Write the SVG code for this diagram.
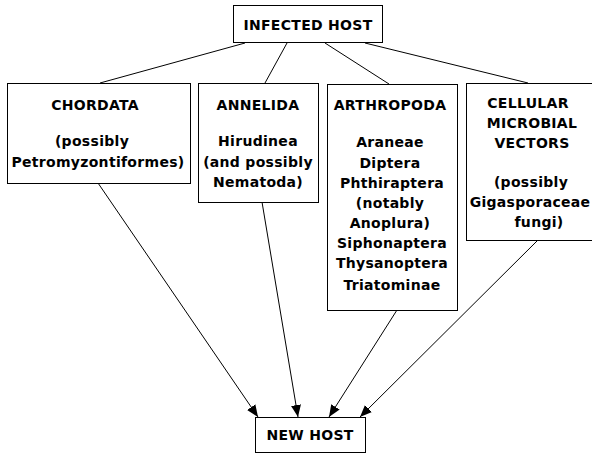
<svg xmlns="http://www.w3.org/2000/svg" width="592" height="454" viewBox="0 0 592 454">
<style>
.box{fill:#fff;stroke:#000;stroke-width:1}
.t{font-family:"DejaVu Sans","Verdana",sans-serif;font-weight:bold;font-size:14px;letter-spacing:0.3px;text-anchor:middle;fill:#000}
.c{stroke:#000;stroke-width:1;fill:none}
</style>
<defs>
<marker id="arr" markerWidth="12" markerHeight="10" refX="12" refY="5" orient="auto" markerUnits="userSpaceOnUse">
<path d="M0,0 L12,5 L0,10 Z" fill="#000"/>
</marker>
</defs>
<rect width="592" height="454" fill="#fff"/>
<g id="connectors">
<line class="c" x1="245" y1="43" x2="100" y2="83"/>
<line class="c" x1="287" y1="43" x2="265" y2="83"/>
<line class="c" x1="325" y1="43" x2="389" y2="84"/>
<line class="c" x1="365" y1="43" x2="528" y2="83"/>
<line class="c" x1="98" y1="183" x2="258" y2="417" marker-end="url(#arr)"/>
<line class="c" x1="262" y1="202" x2="298" y2="417" marker-end="url(#arr)"/>
<line class="c" x1="397" y1="310" x2="329" y2="417" marker-end="url(#arr)"/>
<line class="c" x1="537" y1="241" x2="360" y2="417" marker-end="url(#arr)"/>
</g>
<g id="infected-host">
<rect class="box" x="233.5" y="5.5" width="149" height="37"/>
<text class="t" x="308" y="30">INFECTED HOST</text>
</g>
<g id="chordata">
<rect class="box" x="7.5" y="83.5" width="183" height="100"/>
<text class="t" x="95" y="110">CHORDATA</text>
<text class="t" x="92" y="146">(possibly</text>
<text class="t" x="98" y="167">Petromyzontiformes)</text>
</g>
<g id="annelida">
<rect class="box" x="198.5" y="83.5" width="120" height="119"/>
<text class="t" x="258" y="110">ANNELIDA</text>
<text class="t" x="258" y="146">Hirudinea</text>
<text class="t" x="258" y="167">(and possibly</text>
<text class="t" x="258" y="187">Nematoda)</text>
</g>
<g id="arthropoda">
<rect class="box" x="327.5" y="84.5" width="130" height="226"/>
<text class="t" x="390" y="110">ARTHROPODA</text>
<text class="t" x="390" y="147">Araneae</text>
<text class="t" x="390" y="168">Diptera</text>
<text class="t" x="392" y="188">Phthiraptera</text>
<text class="t" x="390" y="208">(notably</text>
<text class="t" x="390" y="228">Anoplura)</text>
<text class="t" x="392" y="248">Siphonaptera</text>
<text class="t" x="392" y="268">Thysanoptera</text>
<text class="t" x="392" y="290">Triatominae</text>
</g>
<g id="cellular">
<rect class="box" x="466.5" y="83.5" width="130" height="157"/>
<text class="t" x="528" y="108">CELLULAR</text>
<text class="t" x="532" y="128">MICROBIAL</text>
<text class="t" x="532" y="148">VECTORS</text>
<text class="t" x="531" y="187">(possibly</text>
<text class="t" x="530" y="207">Gigasporaceae</text>
<text class="t" x="539" y="227">fungi)</text>
</g>
<g id="new-host">
<rect class="box" x="255.5" y="417.5" width="110" height="35"/>
<text class="t" x="310" y="440">NEW HOST</text>
</g>
</svg>
